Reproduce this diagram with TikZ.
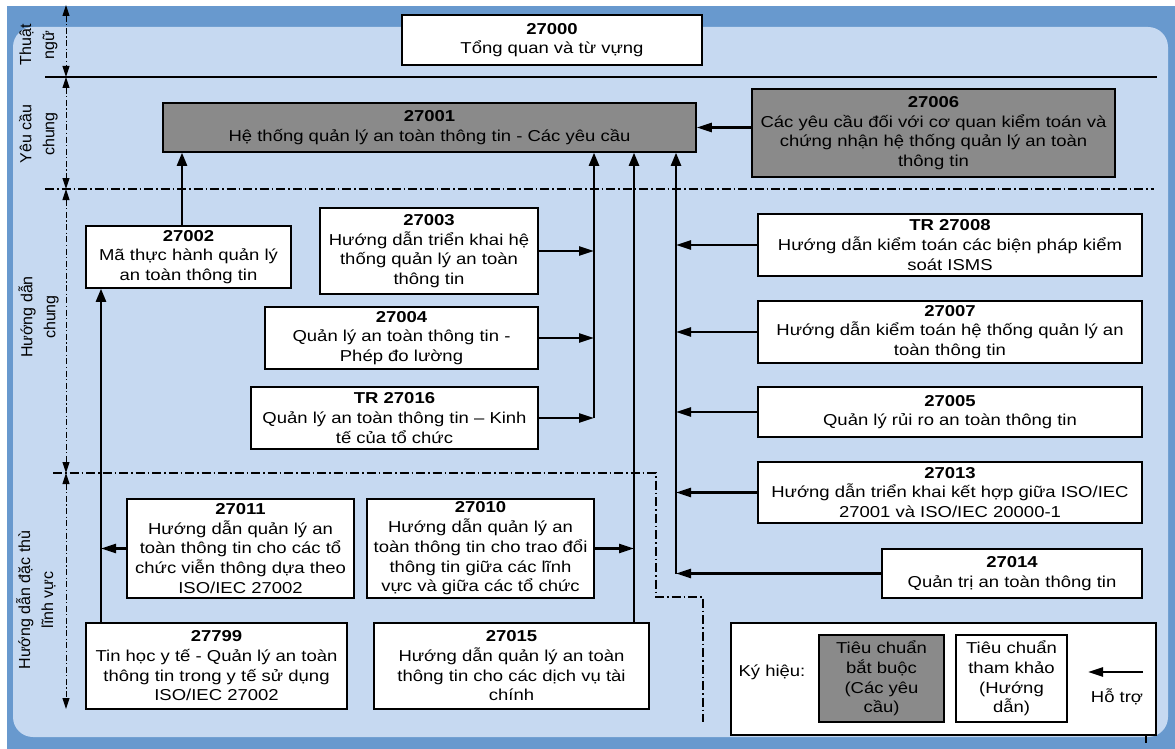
\documentclass[tikz,border=0pt]{standalone}
\usepackage{fontspec}
\setmainfont{Liberation Sans}[FakeStretch=1.17]
\newfontfamily\zonefont{Liberation Sans}
\usepackage{xcolor}
\usetikzlibrary{arrows.meta}
\definecolor{frameblue}{RGB}{104,153,206}
\definecolor{paneblue}{RGB}{198,217,241}
\definecolor{reqgray}{RGB}{138,138,138}

\begin{document}
\begin{tikzpicture}[x=1pt,y=-1pt,
    lbl/.style={inner sep=0pt,align=center,
        font={\fontsize{15.8}{19.7}\selectfont}},
    stdbox/.style={lbl,draw=black,line width=1.5pt,fill=white},
    reqbox/.style={stdbox,fill=reqgray},
    zone/.style={rotate=90,align=center,inner sep=0pt,
        font={\zonefont\fontsize{16}{23}\selectfont}},
    conn/.style={line width=2.3pt,-{Triangle[length=13pt,width=10pt]}},
    hconn/.style={line width=2.3pt,-{Triangle[length=15pt,width=9pt]}},
    zonearrow/.style={line width=1pt,
        {Triangle[length=11pt,width=7pt]}-{Triangle[length=11pt,width=7pt]},
        dash pattern=on 6pt off 2.5pt on 1.2pt off 2.5pt},
    divider/.style={line width=1.2pt,dash pattern=on 9pt off 3pt on 1.5pt off 3pt},
    ]
    \useasboundingbox (0,0) rectangle (1175,749);
    % Frame and pane
    \fill[frameblue] (7,6) rectangle (1175,749);
    \fill[paneblue,rounded corners=20pt] (13,27) rectangle (1168,737);

    % Zone borders
    \draw[line width=1.4pt] (45,77) -- (1157,77);
    \draw[divider] (45,189) -- (1154,189);
    \draw[divider] (53,473) -- (656,473) -- (656,597) -- (703,597) -- (703,722);

    % Zone extents
    \coordinate (z0) at (66,5);
    \coordinate (z1) at (66,77);
    \coordinate (z2) at (66,189);
    \coordinate (z3) at (66,473);
    \coordinate (z4) at (66,709);
    \foreach \a/\b in {z0/z1,z1/z2,z2/z3,z3/z4}
        \draw[zonearrow] (\a) -- (\b);

    % Zone names
    \node[zone] (zterm) at (38.5,45)  {Thuật\\ngữ};
    \node[zone] (zreq)  at (38.5,134) {Yêu cầu\\chung};
    \node[zone] (zgen)  at (38.5,317) {Hướng dẫn\\chung};
    \node[zone] (zsec)  at (36,600)   {Hướng dẫn đặc thù\\lĩnh vực};

    % Requirement standards
    \node[stdbox,minimum width=300pt,minimum height=50pt] (n27000) at (552,40)
        {\textbf{27000}\\Tổng quan và từ vựng};
    \node[reqbox,minimum width=533pt,minimum height=49pt] (n27001) at (429.5,127.5)
        {\textbf{27001}\\Hệ thống quản lý an toàn thông tin - Các yêu cầu};
    \node[reqbox,minimum width=363pt,minimum height=88pt] (n27006) at (933.5,133)
        {\textbf{27006}\\Các yêu cầu đối với cơ quan kiểm toán và\\chứng nhận hệ thống quản lý an toàn\\thông tin};

    % General guidelines
    \node[stdbox,minimum width=205pt,minimum height=62pt] (n27002) at (188.5,257)
        {\textbf{27002}\\Mã thực hành quản lý\\an toàn thông tin};
    \node[stdbox,minimum width=218pt,minimum height=86pt] (n27003) at (429,251)
        {\textbf{27003}\\Hướng dẫn triển khai hệ\\thống quản lý an toàn\\thông tin};
    \node[stdbox,minimum width=273pt,minimum height=62pt] (n27004) at (401.5,338)
        {\textbf{27004}\\Quản lý an toàn thông tin -\\Phép đo lường};
    \node[stdbox,minimum width=287pt,minimum height=62pt] (n27016) at (394.5,418)
        {\textbf{TR 27016}\\Quản lý an toàn thông tin – Kinh\\tế của tổ chức};
    \node[stdbox,minimum width=384pt,minimum height=62pt] (n27008) at (950,245)
        {\textbf{TR 27008}\\Hướng dẫn kiểm toán các biện pháp kiểm\\soát ISMS};
    \node[stdbox,minimum width=384pt,minimum height=62pt] (n27007) at (950,332)
        {\textbf{27007}\\Hướng dẫn kiểm toán hệ thống quản lý an\\toàn thông tin};
    \node[stdbox,minimum width=384pt,minimum height=50pt] (n27005) at (950,412)
        {\textbf{27005}\\Quản lý rủi ro an toàn thông tin};
    \node[stdbox,minimum width=384pt,minimum height=61pt] (n27013) at (950,492.5)
        {\textbf{27013}\\Hướng dẫn triển khai kết hợp giữa ISO/IEC\\27001 và ISO/IEC 20000-1};
    \node[stdbox,minimum width=260pt,minimum height=49pt] (n27014) at (1012,573.5)
        {\textbf{27014}\\Quản trị an toàn thông tin};

    % Sector specific guidelines
    \node[stdbox,minimum width=227pt,minimum height=99pt] (n27011) at (240.5,548.5)
        {\textbf{27011}\\Hướng dẫn quản lý an\\toàn thông tin cho các tổ\\chức viễn thông dựa theo\\ISO/IEC 27002};
    \node[stdbox,minimum width=227pt,minimum height=99pt] (n27010) at (480.5,548.5)
        {\textbf{27010}\\Hướng dẫn quản lý an\\toàn thông tin cho trao đổi\\thông tin giữa các lĩnh\\vực và giữa các tổ chức};
    \node[stdbox,minimum width=261pt,minimum height=86pt] (n27799) at (216.5,666)
        {\textbf{27799}\\Tin học y tế - Quản lý an toàn\\thông tin trong y tế sử dụng\\ISO/IEC 27002};
    \node[stdbox,minimum width=275pt,minimum height=86pt] (n27015) at (511.5,666)
        {\textbf{27015}\\Hướng dẫn quản lý an toàn\\thông tin cho các dịch vụ tài\\chính};

    % Support lines
    \coordinate (busT) at (182,0);
    \coordinate (busL) at (101,0);
    \coordinate (busM) at (594,0);
    \coordinate (busF) at (634,0);
    \coordinate (busR) at (676,0);
    \draw[conn] (n27002.north -| busT) -- (n27001.south -| busT);
    \draw[conn] (n27799.north -| busL) -- (n27002.south -| busL);
    \draw[hconn] (n27011.west) -- (n27011.west -| busL);
    \draw[conn] (n27015.north -| busF) -- (n27001.south -| busF);
    \draw[hconn] (n27010.east) -- (n27010.east -| busF);
    \draw[conn] (n27016.east -| busM) -- (n27001.south -| busM);
    \foreach \n in {n27003,n27004,n27016}
        \draw[hconn] (\n.east) -- (\n.east -| busM);
    \draw[conn] (n27014.west -| busR) -- (n27001.south -| busR);
    \foreach \n in {n27008,n27007,n27005,n27013,n27014}
        \draw[hconn] (\n.west) -- (\n.west -| busR);
    \draw[hconn] (n27006.west |- n27001.east) -- (n27001.east);

    % Legend
    \node[stdbox,minimum width=425pt,minimum height=112pt] (legend) at (943.5,679) {};
    \node[lbl] (legkey) at (772,672) {Ký hiệu:};
    \node[reqbox,minimum width=125pt,minimum height=87pt] (legreq) at (881.5,678.5)
        {Tiêu chuẩn\\bắt buộc\\(Các yêu\\cầu)};
    \node[stdbox,minimum width=111pt,minimum height=87pt] (legref) at (1011.5,678.5)
        {Tiêu chuẩn\\tham khảo\\(Hướng\\dẫn)};
    \coordinate (legtail) at (1143,672);
    \coordinate (leghead) at (1088,672);
    \draw[hconn] (legtail) -- (leghead);
    \node[lbl] (legsup) at (1117,697) {Hỗ trợ};
    \draw[line width=2pt] ([xshift=-11pt]legend.south east) -- ++(0,7);
\end{tikzpicture}
\end{document}
